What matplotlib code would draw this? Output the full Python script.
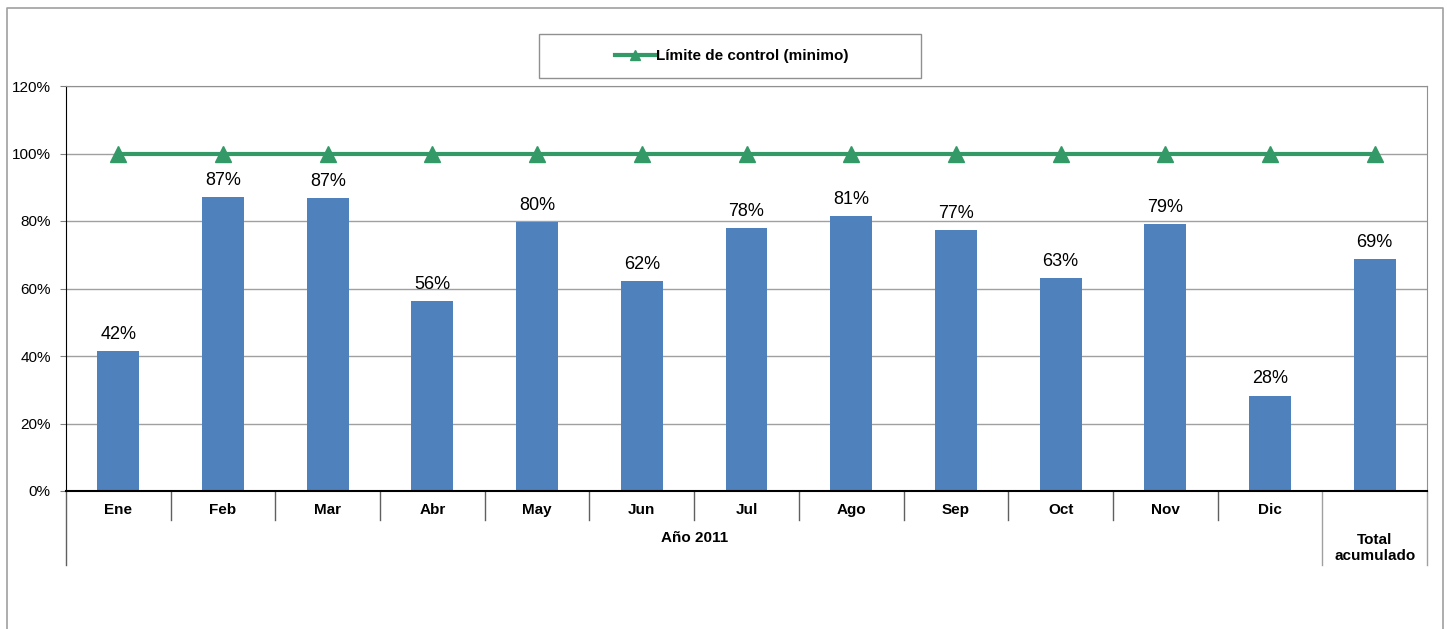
import matplotlib.pyplot as plt
from matplotlib.patches import Rectangle
from matplotlib.lines import Line2D
import numpy as np

plt.rcParams['font.family'] = ['Liberation Sans', 'DejaVu Sans']

meses = ['Ene', 'Feb', 'Mar', 'Abr', 'May', 'Jun', 'Jul', 'Ago', 'Sep', 'Oct', 'Nov', 'Dic']
total_label = 'Total\nacumulado'
valores = [41.5, 87.1, 86.7, 56.3, 79.7, 62.2, 77.9, 81.5, 77.3, 63.1, 79.1, 28.2, 68.7]
etiquetas = ['42%', '87%', '87%', '56%', '80%', '62%', '78%', '81%', '77%', '63%', '79%', '28%', '69%']
limite = [100] * 13
grupo = 'Año 2011'
yticks = [0, 20, 40, 60, 80, 100, 120]

fig = plt.figure(figsize=(14.47, 6.29), dpi=100)
ax = fig.add_axes([66/1447, 1 - 491/629, (1427-66)/1447, (491-86)/629])

x = np.arange(len(valores))
bars = ax.bar(x, valores, width=0.4, color='#4F81BD', zorder=2)
ax.plot(x, limite, color='#339966', lw=3, marker='^', markersize=11, zorder=3)

for b, lab in zip(bars, etiquetas):
    ax.annotate(lab, (b.get_x() + b.get_width()/2, b.get_height()),
                xytext=(0, 6), textcoords='offset points', ha='center', va='bottom', fontsize=13)

ax.set_xlim(-0.5, len(valores) - 0.5)
ax.set_ylim(0, 120)
ax.set_yticks(yticks)
ax.set_yticklabels([f'{t}%' for t in yticks], fontsize=11)
ax.yaxis.grid(True, color='#A0A0A0', lw=1, zorder=0)
ax.set_xticks([])
ax.tick_params(axis='y', length=4, color='#808080', pad=7)
for s in ['top', 'right']:
    ax.spines[s].set_color('#909090')
ax.spines['left'].set_color('black')
ax.spines['bottom'].set_color('black')
ax.spines['bottom'].set_linewidth(1.5)

# category axis below the plot
trans = ax.get_xaxis_transform()
for i in range(len(valores) + 1):
    pos = i - 0.5
    bajo = -0.183 if i in (0, 12, 13) else -0.072
    col = '#A0A0A0' if i in (12, 13) else '#606060'
    ax.plot([pos, pos], [0, bajo], transform=trans, color=col, lw=1, clip_on=False)
for i, m in enumerate(meses):
    ax.text(i, -0.047, m, transform=trans, ha='center', va='center', fontsize=11, fontweight='bold')
ax.text((len(meses) - 1) / 2, -0.116, grupo, transform=trans, ha='center', va='center',
        fontsize=11, fontweight='bold')
ax.text(12, -0.14, total_label, transform=trans, ha='center', va='center',
        fontsize=11, fontweight='bold', linespacing=1.2)

# legend box
fig.patches.append(Rectangle((539/1447, 1 - 78/629), 382/1447, 44/629, transform=fig.transFigure,
                             fill=False, edgecolor='#909090', lw=1))
handle = Line2D([], [], color='#339966', lw=3, marker='^', markersize=7)
fig.legend([handle], ['Límite de control (minimo)'], loc='center', bbox_to_anchor=(732/1447, 1 - 56/629),
           frameon=False, prop={'weight': 'bold', 'size': 11}, handlelength=2.6, handletextpad=0.1)

# outer frame
fig.add_artist(Line2D([7/1447, 7/1447, 1443/1447, 1443/1447], [0, 1 - 8/629, 1 - 8/629, 0],
                      transform=fig.transFigure, color='#A0A0A0', lw=1.2))

fig.savefig('out.png', dpi=100)
